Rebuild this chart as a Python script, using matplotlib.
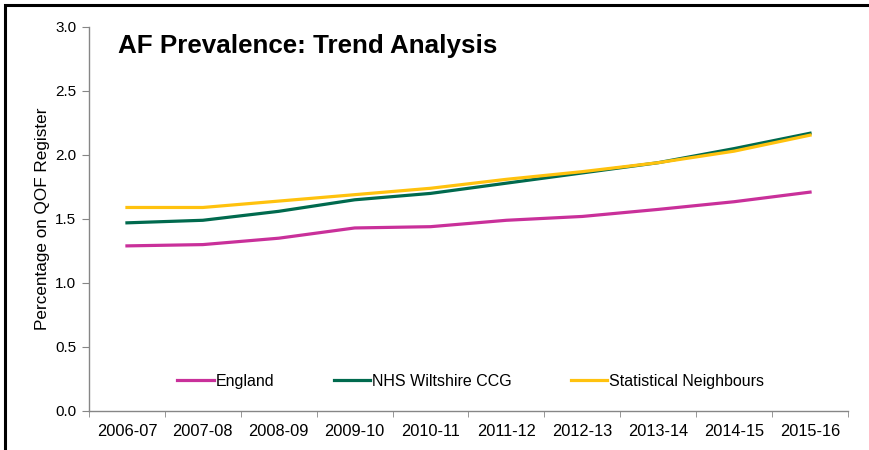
import matplotlib
matplotlib.use("Agg")
import matplotlib.pyplot as plt
from matplotlib.patches import Rectangle
import numpy as np

plt.rcParams['font.family'] = ['Liberation Sans', 'DejaVu Sans']

years = ['2006-07', '2007-08', '2008-09', '2009-10', '2010-11',
         '2011-12', '2012-13', '2013-14', '2014-15', '2015-16']
england = [1.29, 1.30, 1.35, 1.43, 1.44, 1.49, 1.52, 1.575, 1.635, 1.71]
wiltshire = [1.47, 1.49, 1.56, 1.65, 1.70, 1.78, 1.86, 1.94, 2.05, 2.17]
neighbours = [1.59, 1.59, 1.64, 1.69, 1.74, 1.81, 1.87, 1.94, 2.03, 2.155]

W, H = 870, 450
fig = plt.figure(figsize=(W / 100, H / 100), dpi=100)
ax = fig.add_axes([89 / W, 39 / H, (848 - 89) / W, (411 - 27) / H])

x = np.arange(len(years))
ax.plot(x, england, color='#C9309A', lw=2.3, label='England')
ax.plot(x, wiltshire, color='#006A4E', lw=2.3, label='NHS Wiltshire CCG')
ax.plot(x, neighbours, color='#FFC20E', lw=2.3, label='Statistical Neighbours')

ax.set_xlim(-0.5, len(years) - 0.5)
ax.set_ylim(0, 3.0)
ax.set_yticks(np.arange(0, 3.01, 0.5))
ax.set_yticklabels([f'{v:.1f}' for v in np.arange(0, 3.01, 0.5)])
ax.set_xticks(x)
ax.set_xticklabels(years)
ax.set_xticks(np.arange(-0.5, len(years), 1), minor=True)

axis_grey = '#868686'
for side in ('top', 'right'):
    ax.spines[side].set_visible(False)
for side in ('left', 'bottom'):
    ax.spines[side].set_color(axis_grey)
    ax.spines[side].set_linewidth(1.0)

ax.tick_params(axis='x', which='major', length=0, pad=9, labelsize=11.8)
ax.tick_params(axis='x', which='minor', length=4, color=axis_grey)
ax.tick_params(axis='y', length=5, color=axis_grey, labelsize=11, pad=4)

ax.set_ylabel('Percentage on QOF Register', fontsize=12.3, labelpad=4)

ax.legend(loc='center', bbox_to_anchor=(0.503, 0.078), ncol=3,
          frameon=False, fontsize=11.5, handlelength=2.3, handletextpad=0.1,
          columnspacing=3.7)

fig.text(118 / W, 1 - 46 / H, 'AF Prevalence: Trend Analysis',
         fontsize=18.7, fontweight='bold', va='center', ha='left')

# frame around the chart area
fig.patches.append(Rectangle((5 / W, -0.1), 1.2, 1 - 5 / H + 0.1,
                             transform=fig.transFigure, fill=False,
                             edgecolor='black', linewidth=2.2, zorder=10))

fig.savefig('out.png', dpi=100)
